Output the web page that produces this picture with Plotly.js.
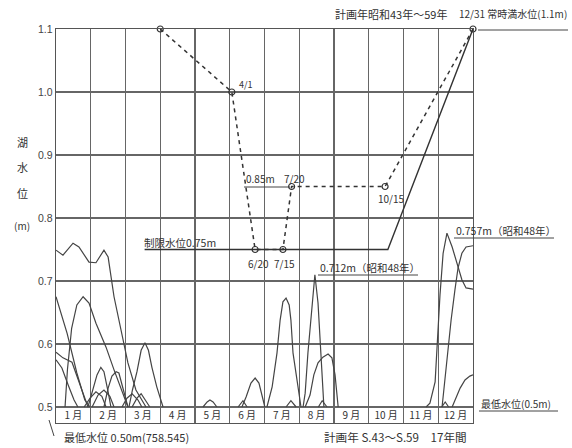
<!DOCTYPE html>
<html><head><meta charset="utf-8">
<script src="https://cdn.plot.ly/plotly-3.0.1.min.js"></script>
<style>html,body{margin:0;padding:0;background:#fff}</style>
</head><body><div id="chart" style="width:572px;height:448px"></div>
<script>
// ---- data ----
const monthLabels = ['1 月','2 月','3 月','4 月','5 月','6 月','7 月','8 月','9 月','10 月','11 月','12 月'];
const monthCenters = [0.5,1.5,2.5,3.5,4.5,5.5,6.5,7.5,8.5,9.5,10.5,11.5];
const yTickVals = [0.5,0.6,0.7,0.8,0.9,1.0,1.1];
const yTickText = ['0.5','0.6','0.7','0.8','0.9','1.0','1.1'];

// planned rule curve (dashed) : month position, level (m)
const ruleX = [3.0, 5.06, 5.73, 6.53, 6.78, 9.47, 12];
const ruleY = [1.1, 1.0, 0.75, 0.75, 0.85, 0.85, 1.1];
// restriction level line (solid)
const limitX = [2.55, 9.55, 12];
const limitY = [0.75, 0.75, 1.1];

// yearly hydrograph traces (S.43 - S.59)
const A_x = [0, 0.2, 0.49, 0.66, 0.95, 1.15, 1.38, 1.5, 1.67, 1.93, 2.07, 2.3, 2.59];
const A_y = [0.749, 0.741, 0.760, 0.754, 0.730, 0.729, 0.749, 0.738, 0.675, 0.606, 0.570, 0.527, 0.5];
const B_x = [0, 0.32, 0.6, 0.83, 0.98];
const B_y = [0.675, 0.617, 0.554, 0.511, 0.5];
const C_x = [0.26, 0.33, 0.45, 0.6, 0.78, 0.95, 1.15, 1.44, 1.67, 1.93, 2.07];
const C_y = [0.5, 0.56, 0.625, 0.662, 0.675, 0.665, 0.633, 0.595, 0.559, 0.522, 0.5];
const D_x = [2.1, 2.2, 2.33, 2.45, 2.56, 2.66, 2.76, 2.9, 3.08];
const D_y = [0.5, 0.527, 0.556, 0.59, 0.602, 0.59, 0.563, 0.532, 0.5];
const E_x = [0, 0.2, 0.46, 0.63, 0.81, 0.92];
const E_y = [0.587, 0.578, 0.571, 0.546, 0.519, 0.5];
const F_x = [0, 0.17, 0.35, 0.52, 0.63];
const F_y = [0.575, 0.562, 0.535, 0.511, 0.5];
const G_x = [0.92, 1.06, 1.18, 1.29, 1.38, 1.5, 1.58];
const G_y = [0.5, 0.527, 0.551, 0.563, 0.556, 0.524, 0.5];
const H_x = [1.38, 1.5, 1.61, 1.73, 1.81, 1.93, 2.07];
const H_y = [0.5, 0.53, 0.549, 0.556, 0.554, 0.53, 0.5];
const I_x = [0.81, 0.98, 1.15, 1.32, 1.44];
const I_y = [0.5, 0.514, 0.524, 0.517, 0.5];
const J_x = [1.04, 1.21, 1.38, 1.55, 1.67];
const J_y = [0.5, 0.519, 0.527, 0.517, 0.5];
const K_x = [1.9, 2.04, 2.19, 2.36, 2.47];
const K_y = [0.5, 0.514, 0.521, 0.511, 0.5];
const L_x = [2.19, 2.33, 2.45, 2.59, 2.7];
const L_y = [0.5, 0.514, 0.521, 0.51, 0.5];
const M_x = [4.23, 4.35, 4.43, 4.52, 4.63];
const M_y = [0.5, 0.508, 0.511, 0.508, 0.5];
const N0_x = [5.24, 5.38, 5.5];
const N0_y = [0.5, 0.51, 0.5];
const N_x = [5.35, 5.47, 5.61, 5.73, 5.84, 5.93, 6.01];
const N_y = [0.5, 0.516, 0.538, 0.546, 0.538, 0.516, 0.5];
const O_x = [6.07, 6.22, 6.36, 6.45, 6.53, 6.62, 6.71, 6.76, 6.82, 6.94, 7.05];
const O_y = [0.5, 0.532, 0.586, 0.638, 0.667, 0.673, 0.662, 0.638, 0.586, 0.538, 0.5];
const P_x = [6.62, 6.76, 6.91];
const P_y = [0.5, 0.51, 0.5];
const Q_x = [7.11, 7.17, 7.25, 7.37, 7.45, 7.54, 7.6, 7.65, 7.71];
const Q_y = [0.5, 0.522, 0.586, 0.665, 0.71, 0.665, 0.611, 0.559, 0.5];
const R_x = [7.17, 7.31, 7.42, 7.54, 7.68, 7.83, 7.94, 8.03, 8.12];
const R_y = [0.5, 0.519, 0.551, 0.57, 0.579, 0.584, 0.578, 0.551, 0.5];
const S_x = [7.55, 7.66, 7.8];
const S_y = [0.5, 0.51, 0.5];
const T_x = [10.65, 10.76, 10.91, 10.99, 11.05, 11.14, 11.25, 11.4, 11.54, 11.68, 11.8, 12];
const T_y = [0.5, 0.506, 0.54, 0.622, 0.678, 0.744, 0.776, 0.754, 0.729, 0.702, 0.689, 0.687];
const U_x = [11.11, 11.19, 11.28, 11.37, 11.48, 11.57, 11.68, 11.8, 12];
const U_y = [0.5, 0.543, 0.59, 0.638, 0.686, 0.721, 0.744, 0.754, 0.756];
const V_x = [11.4, 11.51, 11.63, 11.77, 11.91, 12];
const V_y = [0.5, 0.514, 0.53, 0.543, 0.549, 0.551];
const W_x = [11.1, 11.2, 11.3];
const W_y = [0.5, 0.508, 0.5];

// ---- helpers: pixel position -> paper coordinates (labels/decoration only) ----
const PL = 56, PW = 417, PB = 423, PH = 394, YMIN = 0.4746;
const PX = px => (px - PL) / PW;
const PY = py => (PB - py) / PH;
const Ydata = py => YMIN + (PB - py) / 630;

const ink = '#333';
const curveStyle = {color: '#444', width: 1.2, shape: 'linear'};
const curves = [[A_x,A_y],[B_x,B_y],[C_x,C_y],[D_x,D_y],[E_x,E_y],[F_x,F_y],[G_x,G_y],[H_x,H_y],
  [I_x,I_y],[J_x,J_y],[K_x,K_y],[L_x,L_y],[M_x,M_y],[N0_x,N0_y],[N_x,N_y],[O_x,O_y],[P_x,P_y],
  [Q_x,Q_y],[R_x,R_y],[S_x,S_y],[T_x,T_y],[U_x,U_y],[V_x,V_y],[W_x,W_y]];

const traces = curves.map(c => ({x: c[0], y: c[1], mode: 'lines', line: curveStyle, hoverinfo: 'skip'}));
traces.push({x: limitX, y: limitY, mode: 'lines', line: {color: '#333', width: 1.4}, hoverinfo: 'skip'});
traces.push({x: ruleX, y: ruleY, mode: 'lines+markers', line: {color: '#333', width: 1.5, dash: '4px,4px'},
  marker: {symbol: 'circle-open', size: 6, color: '#333', line: {width: 1.2}}, hoverinfo: 'skip', cliponaxis: false});
traces.push({x: monthCenters, y: monthCenters.map(() => Ydata(416)), mode: 'text', text: monthLabels,
  textfont: {family: 'Noto Sans CJK JP', size: 10, color: ink}, hoverinfo: 'skip'});

const fontJP = (s) => ({family: 'Noto Sans CJK JP', size: s, color: ink});
function lab(text, px, py, size, anchor) {
  return {text: text, x: PX(px), y: PY(py), xref: 'paper', yref: 'paper', showarrow: false,
    xanchor: anchor || 'left', yanchor: 'middle', font: fontJP(size || 10)};
}
const annotations = [
  lab('計画年昭和43年～59年', 333, 14, 11),
  lab('12/31 常時満水位(1.1m)', 457, 14, 10),
  lab('4/1', 237, 84, 9),
  lab('0.85m', 244, 178, 10),
  lab('7/20', 282, 178, 10),
  lab('10/15', 376, 198, 10),
  lab('制限水位0.75m', 142, 243, 10.5),
  lab('6/20', 246, 263, 10),
  lab('7/15', 272, 263, 10),
  lab('0.712m（昭和48年）', 318, 267, 10.5),
  lab('0.757m（昭和48年）', 454, 230, 10.5),
  lab('最低水位(0.5m)', 479, 403, 10),
  lab('最低水位 0.50m(758.545)', 62, 437, 11),
  lab('計画年 S.43～S.59　17年間', 322, 437, 11.6),
  lab('湖', 22, 142, 11, 'center'),
  lab('水', 22, 167, 11, 'center'),
  lab('位', 22, 193, 11, 'center'),
  lab('(m)', 22, 225, 10, 'center')
];
function seg(x0, y0, x1, y1) {
  return {type: 'line', xref: 'paper', yref: 'paper', x0: PX(x0), y0: PY(y0), x1: PX(x1), y1: PY(y1),
    line: {color: '#444', width: 1}};
}
const shapes = [
  seg(478, 30, 568, 30),
  seg(244, 187, 290, 187),
  seg(318, 275, 418, 275),
  seg(454, 238, 554, 238),
  seg(479, 411, 558, 411),
  seg(49, 420, 54, 436)
];

const layout = {
  width: 572, height: 448,
  margin: {l: 56, r: 99, t: 29, b: 25, pad: 0},
  paper_bgcolor: '#fff', plot_bgcolor: '#fff',
  showlegend: false,
  xaxis: {range: [0, 12], tick0: 0, dtick: 1, showticklabels: false, ticks: '',
    showgrid: true, gridcolor: '#666', gridwidth: 1.4, zeroline: false,
    showline: true, mirror: true, linecolor: '#555', linewidth: 1.4, fixedrange: true},
  yaxis: {range: [YMIN, 1.1], tickmode: 'array', tickvals: yTickVals, ticktext: yTickText, ticks: '',
    showgrid: true, gridcolor: '#666', gridwidth: 1.4, zeroline: false,
    showline: true, mirror: true, linecolor: '#555', linewidth: 1.4,
    tickfont: {family: 'Liberation Sans Narrow, Liberation Sans, sans-serif', size: 10.5, color: '#444'},
    fixedrange: true},
  annotations: annotations,
  shapes: shapes
};
Plotly.newPlot('chart', traces, layout, {staticPlot: true, displayModeBar: false});
</script></body></html>
